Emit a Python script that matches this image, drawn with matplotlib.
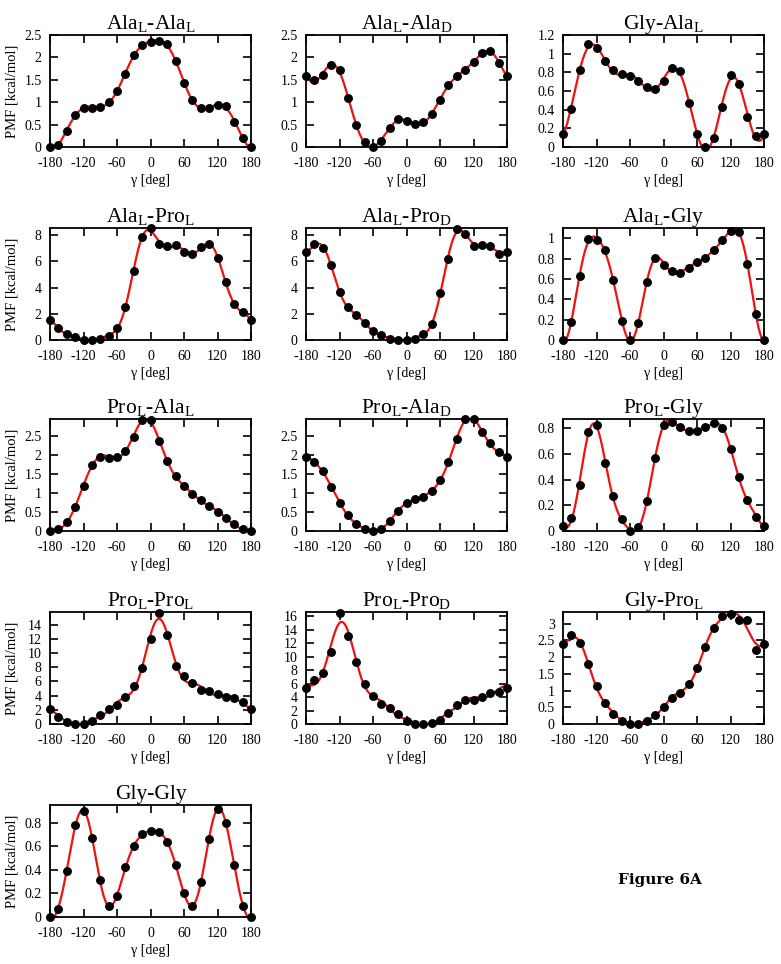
import numpy as np
import matplotlib
matplotlib.use('Agg')
import matplotlib.pyplot as plt

plt.rcParams['font.family'] = ['Liberation Serif', 'DejaVu Serif']
plt.rcParams['mathtext.fontset'] = 'custom'
plt.rcParams['mathtext.rm'] = 'Liberation Serif'
plt.rcParams['mathtext.it'] = 'Liberation Serif:italic'
plt.rcParams['axes.unicode_minus'] = False

# dihedral angle gamma, every 15 degrees
gamma = np.arange(-180, 181, 15)

titles = ['Ala$_\\mathrm{L}$-Ala$_\\mathrm{L}$', 'Ala$_\\mathrm{L}$-Ala$_\\mathrm{D}$', 'Gly-Ala$_\\mathrm{L}$',
          'Ala$_\\mathrm{L}$-Pro$_\\mathrm{L}$', 'Ala$_\\mathrm{L}$-Pro$_\\mathrm{D}$', 'Ala$_\\mathrm{L}$-Gly',
          'Pro$_\\mathrm{L}$-Ala$_\\mathrm{L}$', 'Pro$_\\mathrm{L}$-Ala$_\\mathrm{D}$', 'Pro$_\\mathrm{L}$-Gly',
          'Pro$_\\mathrm{L}$-Pro$_\\mathrm{L}$', 'Pro$_\\mathrm{L}$-Pro$_\\mathrm{D}$', 'Gly-Pro$_\\mathrm{L}$',
          'Gly-Gly']

ala_ala_l = [0, 0.05, 0.35, 0.72, 0.88, 0.88, 0.90, 1.0, 1.25, 1.63, 2.05, 2.28, 2.34,
             2.37, 2.29, 1.91, 1.43, 1.06, 0.88, 0.86, 0.94, 0.91, 0.56, 0.19, 0]
ala_ala_d = [1.58, 1.49, 1.61, 1.83, 1.72, 1.10, 0.48, 0.11, 0.01, 0.14, 0.43, 0.63, 0.57,
             0.51, 0.55, 0.74, 1.05, 1.38, 1.59, 1.72, 1.90, 2.09, 2.15, 1.87, 1.58]
gly_ala = [0.14, 0.41, 0.82, 1.10, 1.06, 0.92, 0.82, 0.78, 0.76, 0.71, 0.64, 0.62, 0.71,
           0.85, 0.81, 0.47, 0.14, 0.0, 0.10, 0.43, 0.77, 0.68, 0.32, 0.12, 0.14]
ala_pro_l = [1.55, 0.95, 0.45, 0.20, 0.02, 0.02, 0.07, 0.28, 0.95, 2.55, 5.3, 7.85, 8.55,
             7.3, 7.15, 7.25, 6.75, 6.6, 7.1, 7.35, 6.25, 4.45, 2.75, 2.1, 1.55]
ala_pro_d = [6.75, 7.3, 7.05, 5.7, 3.7, 2.5, 1.9, 1.3, 0.7, 0.35, 0.08, 0.0, 0.02,
             0.1, 0.45, 1.2, 3.55, 6.2, 8.45, 8.1, 7.2, 7.25, 7.15, 6.55, 6.75]
ala_gly = [0, 0.18, 0.63, 0.99, 0.98, 0.88, 0.59, 0.19, 0.0, 0.17, 0.57, 0.81, 0.74,
           0.68, 0.66, 0.71, 0.77, 0.81, 0.88, 0.98, 1.07, 1.06, 0.75, 0.26, 0]
pro_ala_l = [0, 0.05, 0.25, 0.62, 1.19, 1.75, 1.96, 1.93, 1.96, 2.12, 2.48, 2.92, 2.92,
             2.37, 1.85, 1.46, 1.18, 0.97, 0.81, 0.67, 0.51, 0.34, 0.18, 0.05, 0]
pro_ala_d = [1.95, 1.82, 1.58, 1.16, 0.75, 0.42, 0.19, 0.05, 0.0, 0.06, 0.27, 0.53, 0.74,
             0.83, 0.90, 1.06, 1.35, 1.81, 2.42, 2.95, 2.95, 2.61, 2.31, 2.08, 1.95]
pro_gly = [0.04, 0.10, 0.36, 0.77, 0.82, 0.53, 0.27, 0.09, 0.0, 0.03, 0.23, 0.57, 0.82,
           0.85, 0.81, 0.78, 0.78, 0.81, 0.84, 0.80, 0.64, 0.42, 0.24, 0.11, 0.04]
pro_pro_l = [2.1, 1.0, 0.35, 0.05, 0.05, 0.4, 1.2, 2.1, 2.75, 3.75, 5.3, 7.95, 11.95,
             15.7, 12.5, 8.15, 6.8, 5.75, 4.85, 4.65, 4.25, 3.75, 3.6, 3.15, 2.1]
pro_pro_d = [5.4, 6.5, 7.6, 10.7, 16.5, 13.0, 9.2, 6.0, 4.2, 3.0, 2.3, 1.5, 0.5,
             0.05, 0.0, 0.1, 0.65, 1.6, 2.8, 3.5, 3.6, 4.0, 4.6, 4.8, 5.4]
gly_pro = [2.4, 2.65, 2.42, 1.78, 1.14, 0.64, 0.30, 0.10, 0.0, 0.0, 0.09, 0.27, 0.52,
           0.79, 0.94, 1.2, 1.67, 2.3, 2.86, 3.22, 3.3, 3.1, 3.1, 2.22, 2.4]
gly_gly = [0, 0.07, 0.39, 0.78, 0.90, 0.67, 0.31, 0.09, 0.18, 0.42, 0.60, 0.70, 0.73,
           0.72, 0.64, 0.44, 0.20, 0.09, 0.30, 0.66, 0.92, 0.80, 0.44, 0.09, 0]

series = [ala_ala_l, ala_ala_d, gly_ala, ala_pro_l, ala_pro_d, ala_gly,
          pro_ala_l, pro_ala_d, pro_gly, pro_pro_l, pro_pro_d, gly_pro, gly_gly]
ymax = [2.5, 2.5, 1.2, 8.55, 8.55, 1.1, 2.95, 2.95, 0.87, 15.8, 16.6, 3.35, 0.95]
ytick_step = [0.5, 0.5, 0.2, 2, 2, 0.2, 0.5, 0.5, 0.2, 2, 2, 0.5, 0.2]


def fourier_fit(x, y, order=6):
    # least-squares periodic fit of the PMF points (red curve)
    t = np.radians(x[:-1])
    cols = [np.ones_like(t)]
    for k in range(1, order + 1):
        cols += [np.cos(k * t), np.sin(k * t)]
    coef = np.linalg.lstsq(np.array(cols).T, np.asarray(y[:-1]), rcond=None)[0]
    xf = np.linspace(-180, 180, 721)
    tf = np.radians(xf)
    yf = coef[0] * np.ones_like(tf)
    for k in range(1, order + 1):
        yf += coef[2 * k - 1] * np.cos(k * tf) + coef[2 * k] * np.sin(k * tf)
    return xf, yf


W, H = 781, 964
fig = plt.figure(figsize=(W / 100, H / 100), dpi=100)
lefts = [50, 306, 563]
tops = [35, 228, 419, 612, 805]
aw, ah = 201, 112

for i, (title, vals) in enumerate(zip(titles, series)):
    r, c = divmod(i, 3)
    ax = fig.add_axes([lefts[c] / W, 1 - (tops[r] + ah) / H, aw / W, ah / H])
    xf, yf = fourier_fit(gamma, vals)
    ax.plot(xf, yf, color='#ee1111', lw=1.6, zorder=2)
    ax.plot(gamma, vals, 'o', color='black', ms=5.4, zorder=3, clip_on=False)
    ax.set_xlim(-180, 180)
    ax.set_ylim(0, ymax[i])
    ax.set_xticks(np.arange(-180, 181, 60))
    ax.set_yticks(np.arange(0, ymax[i] + 1e-6, ytick_step[i]))
    ax.yaxis.set_major_formatter(plt.FuncFormatter(lambda v, p: f'{v:g}'))
    ax.tick_params(direction='in', top=True, right=True, length=6, width=1.2,
                   labelsize=10)
    ax.tick_params(axis='x', pad=7)
    ax.tick_params(axis='y', pad=6)
    for s in ax.spines.values():
        s.set_linewidth(1.3)
    ax.set_title(title, fontsize=15.5, pad=4)
    ax.set_xlabel('γ [deg]', fontsize=10, labelpad=3)
    if c == 0:
        ax.set_ylabel('PMF [kcal/mol]', fontsize=10.5)
        ax.yaxis.set_label_coords(-31 / aw, 0.5)

fig.text(660 / W, 1 - 880 / H, 'Figure 6A', fontsize=11, fontweight='bold',
         family='DejaVu Serif', ha='center', va='center')

plt.savefig('out.png', dpi=100)
